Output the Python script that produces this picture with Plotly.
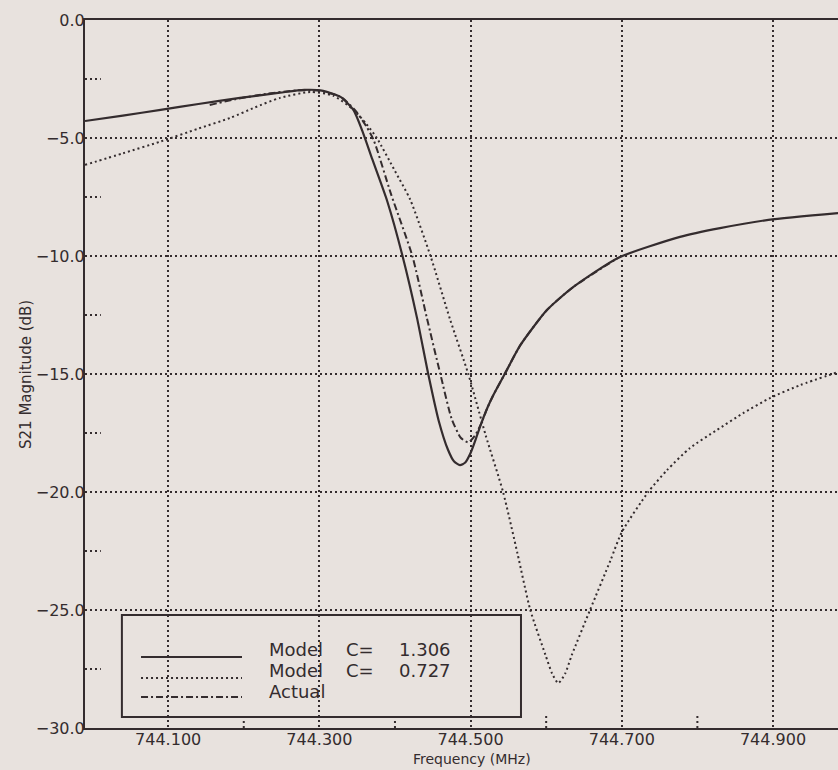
import plotly.graph_objects as go

# ---------------- data ----------------
freq_c1306 = [743.990, 744.040, 744.090, 744.140, 744.195, 744.248, 744.280, 744.305,
              744.328, 744.345, 744.358, 744.370, 744.390, 744.410, 744.429, 744.444,
              744.458, 744.470, 744.478, 744.486, 744.493, 744.500, 744.507, 744.514,
              744.522, 744.530, 744.546, 744.566, 744.601, 744.636, 744.695, 744.777,
              744.830, 744.894, 744.986]
s21_c1306 = [-4.28, -4.05, -3.81, -3.56, -3.30, -3.08, -2.96, -3.00,
             -3.26, -3.81, -4.80, -5.90, -7.70, -10.0, -12.6, -15.0,
             -17.0, -18.2, -18.7, -18.86, -18.75, -18.35, -17.75, -17.1,
             -16.45, -15.9, -14.95, -13.77, -12.29, -11.31, -10.08, -9.19,
             -8.82, -8.47, -8.18]

freq_c0727 = [743.990, 744.040, 744.090, 744.140, 744.182, 744.215, 744.248, 744.288,
              744.318, 744.345, 744.362, 744.376, 744.400, 744.420, 744.447, 744.473,
              744.497, 744.520, 744.543, 744.562, 744.579, 744.599, 744.608, 744.616,
              744.625, 744.634, 744.658, 744.685, 744.700, 744.735, 744.760, 744.790,
              744.826, 744.861, 744.896, 744.936, 744.986]
s21_c0727 = [-6.14, -5.65, -5.15, -4.60, -4.15, -3.70, -3.30, -3.05,
             -3.20, -3.80, -4.40, -5.00, -6.40, -7.60, -10.0, -12.7,
             -15.0, -17.6, -20.0, -22.6, -25.0, -26.9, -27.7, -28.1,
             -27.7, -26.9, -25.0, -22.9, -21.7, -20.0, -19.07, -18.14,
             -17.37, -16.65, -16.02, -15.47, -14.92]

freq_actual = [744.155, 744.190, 744.232, 744.271, 744.300, 744.328, 744.348, 744.362,
               744.372, 744.395, 744.423, 744.442, 744.460, 744.475, 744.487, 744.497,
               744.506, 744.514, 744.522, 744.530, 744.546, 744.566, 744.601, 744.636,
               744.695]
s21_actual = [-3.60, -3.35, -3.12, -2.98, -3.00, -3.25, -3.85, -4.50,
              -5.10, -7.40, -10.0, -12.6, -15.0, -16.9, -17.7, -17.9,
              -17.6, -17.1, -16.45, -15.9, -14.95, -13.77, -12.29, -11.31,
              -10.08]

x_tick_values = [744.1, 744.3, 744.5, 744.7, 744.9]
x_tick_labels = ["744.100", "744.300", "744.500", "744.700", "744.900"]
y_tick_values = [-30, -25, -20, -15, -10, -5, 0]
y_tick_labels = ["\u221230.0", "\u221225.0", "\u221220.0", "\u221215.0", "\u221210.0", "\u22125.0", "0.0"]
x_minor_ticks = [744.2, 744.4, 744.6, 744.8]
y_minor_ticks = [-27.5, -22.5, -17.5, -12.5, -7.5, -2.5]

legend_words = [["Model", "C=", "1.306"],
                ["Model", "C=", "0.727"],
                ["Actual"]]

# ---------------- style ----------------
INK = "#342c2e"
BG = "#e8e2de"
FONT = "DejaVu Sans"
DOT = "2px,3px"
DASHDOT = "7px,3px,2px,3px"
styles = [dict(width=2.2, dash="solid"),
          dict(width=2.0, dash=DOT),
          dict(width=2.0, dash=DASHDOT)]

fig = go.Figure()
series = [(freq_c1306, s21_c1306), (freq_c0727, s21_c0727), (freq_actual, s21_actual)]
for (fx, fy), st, words in zip(series, styles, legend_words):
    fig.add_trace(go.Scatter(
        x=fx, y=fy, mode="lines", name=" ".join(words), showlegend=False,
        line=dict(color=INK, width=st["width"], dash=st["dash"],
                  shape="spline", smoothing=0.6)))

shapes = []
# minor ticks (dotted, inside)
for xv in x_minor_ticks:
    shapes.append(dict(type="line", xref="x", yref="y domain", x0=xv, x1=xv,
                       y0=0, y1=0.019, line=dict(color=INK, width=2, dash=DOT)))
for yv in y_minor_ticks:
    shapes.append(dict(type="line", xref="x domain", yref="y", x0=0, x1=0.021,
                       y0=yv, y1=yv, line=dict(color=INK, width=2, dash=DOT)))

# custom legend box (domain fractions of the plot area)
shapes.append(dict(type="rect", xref="x domain", yref="y domain",
                   x0=0.049, x1=0.579, y0=0.0155, y1=0.1596,
                   line=dict(color=INK, width=2), fillcolor="rgba(0,0,0,0)"))
sample_y = [0.1003, 0.0706, 0.0438]
text_y = [0.1110, 0.0810, 0.0510]
word_x = [0.2417, 0.3440, 0.4150]
annotations = []
for st, sy, ty, words in zip(styles, sample_y, text_y, legend_words):
    shapes.append(dict(type="line", xref="x domain", yref="y domain",
                       x0=0.0744, x1=0.2085, y0=sy, y1=sy,
                       line=dict(color=INK, width=st["width"], dash=st["dash"])))
    for wx, w in zip(word_x, words):
        annotations.append(dict(xref="x domain", yref="y domain", x=wx, y=ty,
                                xanchor="left", yanchor="middle", showarrow=False,
                                text=w, font=dict(family=FONT, size=18, color=INK)))

# axis titles
annotations.append(dict(xref="x domain", yref="y domain", x=0.514, y=-0.0438,
                        xanchor="center", yanchor="middle", showarrow=False,
                        text="Frequency (MHz)", font=dict(family=FONT, size=14, color=INK)))
annotations.append(dict(xref="x domain", yref="y domain", x=-0.0784, y=0.5,
                        xanchor="center", yanchor="middle", showarrow=False, textangle=-90,
                        text="S21 Magnitude (dB)", font=dict(family=FONT, size=15, color=INK)))

fig.update_layout(
    width=838, height=770,
    margin=dict(l=85, r=0, t=20, b=42),
    paper_bgcolor=BG, plot_bgcolor=BG,
    font=dict(family=FONT, color=INK, size=16),
    shapes=shapes, annotations=annotations,
    showlegend=False,
    xaxis=dict(range=[743.990, 744.986], tickvals=x_tick_values, ticktext=x_tick_labels,
               showgrid=True, gridcolor=INK, gridwidth=2, griddash=DOT,
               showline=True, linecolor=INK, linewidth=2, mirror=True,
               ticks="", zeroline=False, ticklabelstandoff=-4,
               tickfont=dict(family=FONT, size=16, color=INK)),
    yaxis=dict(range=[-30, 0], tickvals=y_tick_values, ticktext=y_tick_labels,
               showgrid=True, gridcolor=INK, gridwidth=2, griddash=DOT,
               showline=True, linecolor=INK, linewidth=2, mirror=False,
               ticks="", zeroline=False, ticklabelstandoff=-5,
               tickfont=dict(family=FONT, size=16, color=INK)),
)

fig.write_html("out.html")
